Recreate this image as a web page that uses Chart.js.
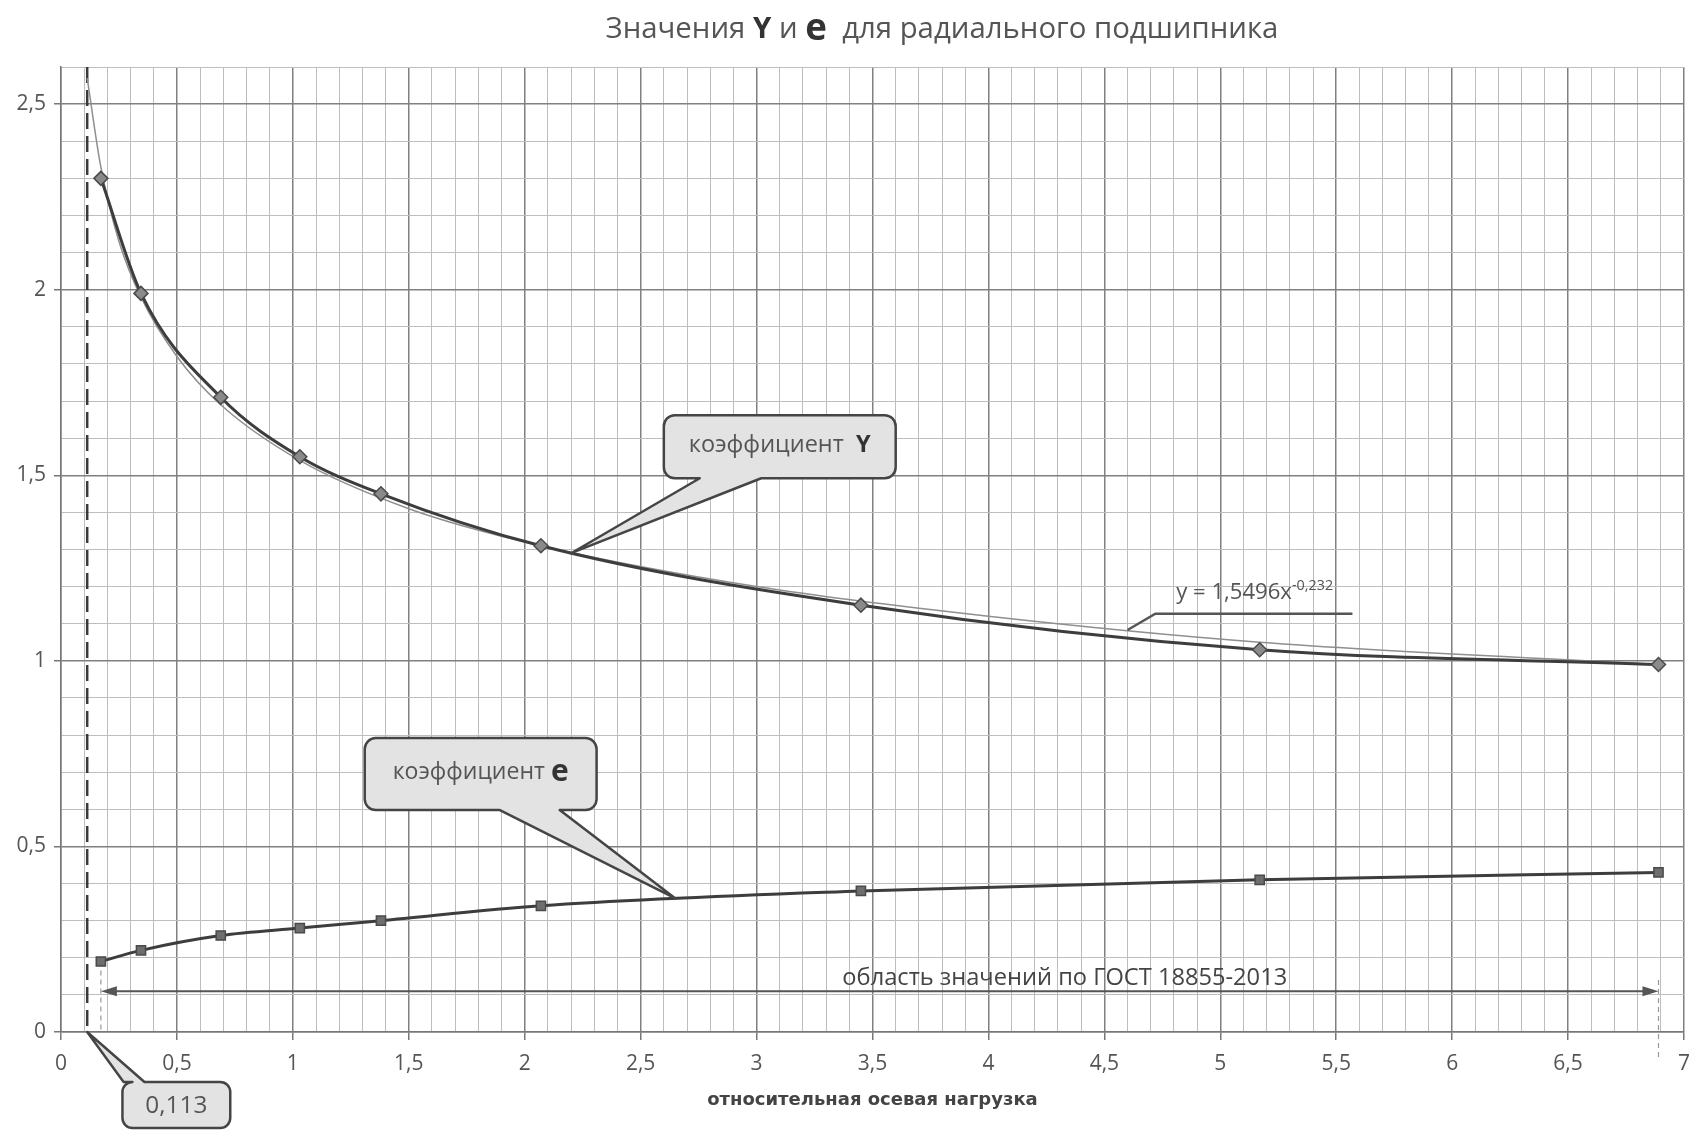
<!DOCTYPE html>
<html>
<head>
<meta charset="utf-8">
<title>Значения Y и e для радиального подшипника</title>
<script src="https://cdn.jsdelivr.net/npm/chart.js@4.4.1/dist/chart.umd.min.js"></script>
<style>
  html, body { margin: 0; padding: 0; background: #fff; }
  #wrap { width: 1701px; height: 1130px; }
</style>
</head>
<body>
<div id="wrap"><canvas id="myChart" width="1701" height="1130"></canvas></div>
<script>
// относительная осевая нагрузка, точки по ГОСТ 18855-2013
const loadX = [0.172, 0.345, 0.689, 1.03, 1.38, 2.07, 3.45, 5.17, 6.89];
const coefY = [2.30, 1.99, 1.71, 1.55, 1.45, 1.31, 1.15, 1.03, 0.99];
const coefE = [0.19, 0.22, 0.26, 0.28, 0.30, 0.34, 0.38, 0.41, 0.43];

// линия тренда (степенная)
const trendX = [0.113, 0.172, 0.25, 0.345, 0.5, 0.689, 1.03, 1.5, 2.07, 3, 4, 5.17, 6.89];
const trendY = [2.57, 2.33, 2.13, 1.98, 1.82, 1.69, 1.54, 1.41, 1.31, 1.20, 1.12, 1.05, 0.99];

const xMin = 0.113;        // граница слева (пунктир)
const rangeFrom = 0.172;   // область значений по ГОСТ
const rangeTo = 6.89;
const rangeLevel = 0.11;

const fontMain = "'Open Sans', 'DejaVu Sans', sans-serif";
const fontNarrow = "'Liberation Sans Narrow', 'Open Sans', sans-serif";

function isMajor(v) { return Math.abs(v * 2 - Math.round(v * 2)) < 1e-6; }
function fmt(v) { return String(Math.round(v * 10) / 10).replace('.', ','); }
function pts(xs, ys) { return xs.map((x, i) => ({x: x, y: ys[i]})); }

// text made of parts, scaled so the whole line has width w
function richText(ctx, parts, x, y, w, align) {
  let total = 0;
  parts.forEach(p => {
    ctx.font = (p.bold ? 'bold ' : '') + (100 * (p.k || 1)) + 'px ' + (p.fam || fontMain);
    p.w = ctx.measureText(p.t).width;
    total += p.w;
  });
  const s = w / total;
  let cx = align === 'left' ? x : x - w / 2;
  ctx.textBaseline = 'middle';
  ctx.textAlign = 'left';
  parts.forEach(p => {
    ctx.font = (p.bold ? 'bold ' : '') + (100 * (p.k || 1) * s) + 'px ' + (p.fam || fontMain);
    ctx.fillStyle = p.color || '#555';
    ctx.fillText(p.t, cx, y + (p.dy || 0) * s * 100);
    cx += p.w * s;
  });
}

function callout(ctx, x0, y0, x1, y1, r, side, b0, b1, tx, ty) {
  ctx.beginPath();
  ctx.moveTo(x0 + r, y0);
  if (side === 'top') { ctx.lineTo(b0, y0); ctx.lineTo(tx, ty); ctx.lineTo(b1, y0); }
  ctx.arcTo(x1, y0, x1, y1, r);
  ctx.arcTo(x1, y1, x0, y1, r);
  if (side === 'bottom') { ctx.lineTo(b1, y1); ctx.lineTo(tx, ty); ctx.lineTo(b0, y1); }
  ctx.arcTo(x0, y1, x0, y0, r);
  ctx.arcTo(x0, y0, x1, y0, r);
  ctx.closePath();
  ctx.fillStyle = '#e3e3e3';
  ctx.fill();
  ctx.strokeStyle = '#454545';
  ctx.lineWidth = 2.5;
  ctx.lineJoin = 'round';
  ctx.stroke();
}

const notes = {
  id: 'notes',
  beforeDatasetsDraw(chart) {
    const ctx = chart.ctx, xs = chart.scales.x, ys = chart.scales.y;
    ctx.save();
    // пунктир x = 0,113
    ctx.strokeStyle = '#3a3a3a';
    ctx.lineWidth = 2.5;
    ctx.setLineDash([16, 7]);
    ctx.beginPath();
    ctx.moveTo(xs.getPixelForValue(xMin), ys.getPixelForValue(ys.max));
    ctx.lineTo(xs.getPixelForValue(xMin), ys.getPixelForValue(0));
    ctx.stroke();
    // тонкие пунктиры у границ области
    ctx.strokeStyle = '#9a9a9a';
    ctx.lineWidth = 1.2;
    ctx.setLineDash([5, 4]);
    ctx.beginPath();
    ctx.moveTo(xs.getPixelForValue(rangeFrom), ys.getPixelForValue(coefE[0]));
    ctx.lineTo(xs.getPixelForValue(rangeFrom), ys.getPixelForValue(0));
    ctx.moveTo(xs.getPixelForValue(rangeTo), ys.getPixelForValue(rangeLevel + 0.03));
    ctx.lineTo(xs.getPixelForValue(rangeTo), ys.getPixelForValue(-0.07));
    ctx.stroke();
    ctx.restore();
  },
  afterDraw(chart) {
    const ctx = chart.ctx, xs = chart.scales.x, ys = chart.scales.y;
    const px = v => xs.getPixelForValue(v), py = v => ys.getPixelForValue(v);
    ctx.save();

    // заголовок
    richText(ctx, [
      {t: 'Значения '}, {t: 'Y', bold: true, color: '#333'}, {t: ' и '},
      {t: 'e', bold: true, k: 1.25, color: '#333'}, {t: '  для радиального подшипника'}
    ], px(3.8), 30, 673, 'center');

    // стрелка области значений
    const ay = py(rangeLevel), ax0 = px(rangeFrom), ax1 = px(rangeTo);
    ctx.strokeStyle = '#555';
    ctx.fillStyle = '#555';
    ctx.lineWidth = 2;
    ctx.beginPath();
    ctx.moveTo(ax0 + 10, ay); ctx.lineTo(ax1 - 10, ay);
    ctx.stroke();
    ctx.beginPath();
    ctx.moveTo(ax0, ay); ctx.lineTo(ax0 + 16, ay - 5); ctx.lineTo(ax0 + 16, ay + 5); ctx.closePath();
    ctx.moveTo(ax1, ay); ctx.lineTo(ax1 - 16, ay - 5); ctx.lineTo(ax1 - 16, ay + 5); ctx.closePath();
    ctx.fill();
    richText(ctx, [{t: 'область значений по ГОСТ 18855-2013', fam: fontNarrow, color: '#444'}],
      px(3.37), py(0.146), 445, 'left');

    // уравнение тренда
    ctx.strokeStyle = '#555';
    ctx.lineWidth = 2.5;
    ctx.beginPath();
    ctx.moveTo(px(5.57), py(1.127));
    ctx.lineTo(px(4.72), py(1.127));
    ctx.lineTo(px(4.60), py(1.083));
    ctx.stroke();
    richText(ctx, [
      {t: 'y = 1,5496x', fam: fontNarrow},
      {t: '-0,232', fam: fontNarrow, k: 0.65, dy: -0.32}
    ], px(4.81), py(1.183), 157, 'left');

    // выноска "коэффициент Y"
    callout(ctx, px(2.6), py(1.662), px(3.6), py(1.492), 11, 'bottom',
      px(2.755), px(3.02), px(2.2), py(1.29));
    richText(ctx, [{t: 'коэффициент  '}, {t: 'Y', bold: true, color: '#333'}],
      px(3.1), py(1.58), 182, 'center');

    // выноска "коэффициент e"
    callout(ctx, px(1.31), py(0.792), px(2.31), py(0.598), 11, 'bottom',
      px(1.893), px(2.151), px(2.65), py(0.36));
    richText(ctx, [{t: 'коэффициент '}, {t: 'e', bold: true, k: 1.3, color: '#333'}],
      px(1.81), py(0.70), 176, 'center');

    // выноска "0,113" под осью
    const b = chart.chartArea.bottom;
    callout(ctx, px(0.265), b + 50, px(0.73), b + 96, 10, 'top',
      px(0.27), px(0.36), px(xMin), py(0));
    richText(ctx, [{t: '0,113', color: '#555'}], px(0.4975), b + 74, 62, 'center');

    ctx.restore();
  }
};

const ctx = document.getElementById('myChart');
const chart = new Chart(ctx, {
  type: 'line',
  data: {
    datasets: [
      {
        label: 'линия тренда',
        data: pts(trendX, trendY),
        borderColor: '#8f8f8f',
        borderWidth: 1.5,
        pointRadius: 0,
        cubicInterpolationMode: 'monotone',
        order: 3
      },
      {
        label: 'коэффициент Y',
        data: pts(loadX, coefY),
        borderColor: '#3d3d3d',
        borderWidth: 3,
        pointStyle: 'rectRot',
        pointRadius: 7,
        pointBackgroundColor: '#8a8a8a',
        pointBorderColor: '#4a4a4a',
        pointBorderWidth: 1.5,
        cubicInterpolationMode: 'monotone',
        order: 2
      },
      {
        label: 'коэффициент e',
        data: pts(loadX, coefE),
        borderColor: '#3d3d3d',
        borderWidth: 3,
        pointStyle: 'rect',
        pointRadius: 6.5,
        pointBackgroundColor: '#6e6e6e',
        pointBorderColor: '#4a4a4a',
        pointBorderWidth: 1.5,
        cubicInterpolationMode: 'monotone',
        order: 1
      }
    ]
  },
  options: {
    responsive: false,
    animation: false,
    devicePixelRatio: 1,
    layout: { padding: { top: 67, right: 15, left: 0, bottom: 0 } },
    plugins: {
      legend: { display: false },
      tooltip: { enabled: false },
      title: { display: false }
    },
    scales: {
      x: {
        type: 'linear',
        min: 0,
        max: 7,
        afterFit: s => { s.height = 98; },
        border: { display: true, color: '#777', width: 1.5 },
        grid: {
          color: c => isMajor(c.tick.value) ? '#808080' : '#bdbdbd',
          lineWidth: c => isMajor(c.tick.value) ? 1.5 : 1,
          tickColor: c => isMajor(c.tick.value) ? '#777' : 'rgba(0,0,0,0)',
          tickLength: 8
        },
        ticks: {
          stepSize: 0.1,
          autoSkip: false,
          maxRotation: 0,
          padding: 11,
          color: '#555',
          font: { family: fontMain, size: 21 },
          callback: v => isMajor(v) ? fmt(v) : ''
        },
        title: {
          display: true,
          text: 'относительная осевая нагрузка',
          color: '#444',
          font: { family: "'DejaVu Sans', sans-serif", size: 18, weight: 'bold' },
          padding: { top: 0, bottom: 19 }
        }
      },
      y: {
        min: 0,
        max: 2.6,
        afterFit: s => { s.width = 61; },
        border: { display: true, color: '#777', width: 1.5 },
        grid: {
          color: c => isMajor(c.tick.value) ? '#808080' : '#bdbdbd',
          lineWidth: c => isMajor(c.tick.value) ? 1.5 : 1,
          tickColor: c => isMajor(c.tick.value) ? '#777' : 'rgba(0,0,0,0)',
          tickLength: 7
        },
        ticks: {
          stepSize: 0.1,
          autoSkip: false,
          padding: 8,
          color: '#555',
          font: { family: fontMain, size: 21 },
          callback: v => isMajor(v) ? fmt(v) : ''
        }
      }
    }
  },
  plugins: [notes]
});
</script>
</body>
</html>
